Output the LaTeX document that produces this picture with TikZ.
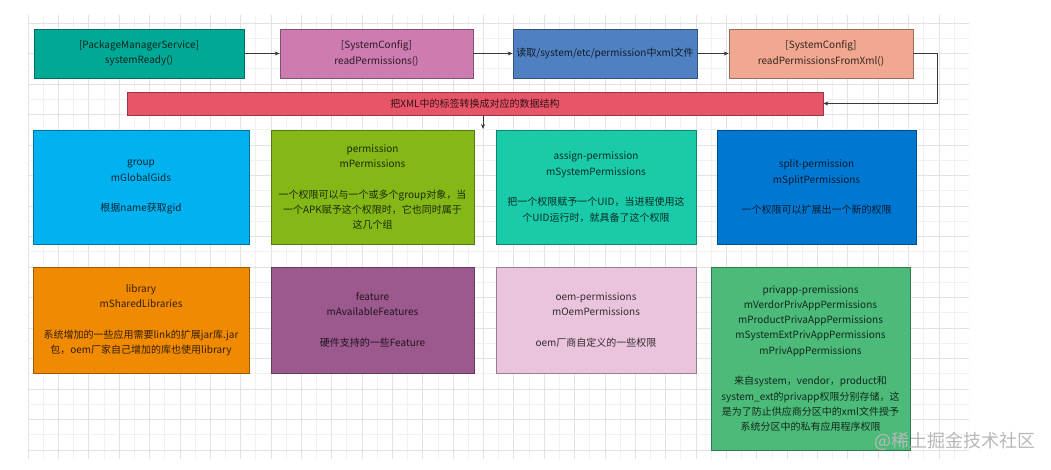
\documentclass[tikz,border=0pt]{standalone}
\usepackage{fontspec}
\setmainfont{Noto Sans CJK SC}
\usetikzlibrary{arrows.meta}
\definecolor{cTeal}{HTML}{00A996}
\definecolor{cPink}{HTML}{CD7BB0}
\definecolor{cSteel}{HTML}{4F81C2}
\definecolor{cSalmon}{HTML}{F0A890}
\definecolor{cRed}{HTML}{E85468}
\definecolor{cSky}{HTML}{00B2F0}
\definecolor{cLime}{HTML}{84B816}
\definecolor{cAqua}{HTML}{1ACBAA}
\definecolor{cAzure}{HTML}{0078D2}
\definecolor{cOrange}{HTML}{F08A00}
\definecolor{cPlum}{HTML}{9B598E}
\definecolor{cLilac}{HTML}{EAC4DC}
\definecolor{cGreen}{HTML}{4CBB7A}
\definecolor{gMinor}{HTML}{F1F1F1}
\definecolor{gMajor}{HTML}{E2E2E2}
\definecolor{lineC}{HTML}{3A3A3A}
\tikzset{
  cbox/.style={rectangle, fill=#1, draw=#1!65!black, line width=0.7pt,
    text=#1!22!black, align=center, inner sep=0pt,
    font=\fontsize{10}{15.3}\selectfont},
  arr/.style={draw=lineC, line width=0.7pt, -{Stealth[length=5pt,width=4pt]}},
  gminor/.style={draw=gMinor, line width=0.6pt},
  gmajor/.style={draw=gMajor, line width=0.6pt},
}
\begin{document}
\begin{tikzpicture}[x=1pt,y=-1pt]
\useasboundingbox (0,0) rectangle (1051,469);
\fill[white] (0,0) rectangle (1051,469);
% grid
\begin{scope}
\clip (28,15) rectangle (969,459);
\foreach \i in {0,...,62} {
  \pgfmathsetmacro\xx{28+\i*15.18}
  \ifodd\i \draw[gminor] (\xx,15) -- (\xx,459); \else \draw[gmajor] (\xx,15) -- (\xx,459); \fi
}
\foreach \j in {0,...,30} {
  \pgfmathsetmacro\yy{7.55+\j*15.25}
  \ifodd\j \draw[gmajor] (28,\yy) -- (969,\yy); \else \draw[gminor] (28,\yy) -- (969,\yy); \fi
}
\end{scope}
% top row
\node[cbox=cTeal, minimum width=210, minimum height=49] (pms) at (139,53.5) {[PackageManagerService]\\systemReady()};
\node[cbox=cPink, minimum width=193, minimum height=49] (rp) at (376.5,53.5) {[SystemConfig]\\readPermissions()};
\node[cbox=cSteel, minimum width=184, minimum height=49] (rd) at (605,53.5) {读取/system/etc/permission中xml文件};
\node[cbox=cSalmon, minimum width=184, minimum height=49] (rx) at (821,53.5) {[SystemConfig]\\readPermissionsFromXml()};
\node[cbox=cRed, minimum width=696, minimum height=23] (conv) at (475,103.5) {把XML中的标签转换成对应的数据结构};
% row 1
\node[cbox=cSky, minimum width=216, minimum height=113.5] (grp) at (141,187.25) {group\\mGlobalGids\\[15.3pt]根据name获取gid};
\node[cbox=cLime, minimum width=203, minimum height=113.5] (perm) at (372.5,187.25) {permission\\mPermissions\\[15.3pt]一个权限可以与一个或多个group对象，当\\一个APK赋予这个权限时，它也同时属于\\这几个组};
\node[cbox=cAqua, minimum width=200, minimum height=113.5] (asg) at (596,187.25) {assign-permission\\mSystemPermissions\\[15.3pt]把一个权限赋予一个UID，当进程使用这\\个UID运行时，就具备了这个权限};
\node[cbox=cAzure, minimum width=199, minimum height=113.5] (spl) at (816.5,187.25) {split-permission\\mSplitPermissions\\[15.3pt]一个权限可以扩展出一个新的权限};
% row 2
\node[cbox=cOrange, minimum width=216, minimum height=106] (lib) at (141,320) {library\\mSharedLibraries\\[15.3pt]系统增加的一些应用需要link的扩展jar库.jar\\包，oem厂家自己增加的库也使用library};
\node[cbox=cPlum, minimum width=203, minimum height=106] (feat) at (372.5,320) {feature\\mAvailableFeatures\\[15.3pt]硬件支持的一些Feature};
\node[cbox=cLilac, minimum width=200, minimum height=106] (oem) at (596,320) {oem-permissions\\mOemPermissions\\[15.3pt]oem厂商自定义的一些权限};
\node[cbox=cGreen, minimum width=199, minimum height=183] (priv) at (810.5,358.5) {privapp-premissions\\mVerdorPrivAppPermissions\\mProductPrivaAppPermissions\\mSystemExtPrivAppPermissions\\mPrivAppPermissions\\[15.3pt]来自system，vendor，product和\\system\_ext的privapp权限分别存储，这\\是为了防止供应商分区中的xml文件授予\\系统分区中的私有应用程序权限};
% connectors
\draw[arr] (pms.east) -- (rp.west);
\draw[arr] (rp.east) -- (rd.west);
\draw[arr] (rd.east) -- (rx.west);
\draw[arr] (rx.east) -- ++(24,0) |- (conv.east);
\coordinate (dn) at (483,129);
\draw[arr] (conv.south -| dn) -- (dn);
% watermark
\node[text=black!28, font=\fontsize{18}{20}\selectfont, anchor=center] (wm) at (955,441) {@稀土掘金技术社区};
\end{tikzpicture}
\end{document}
